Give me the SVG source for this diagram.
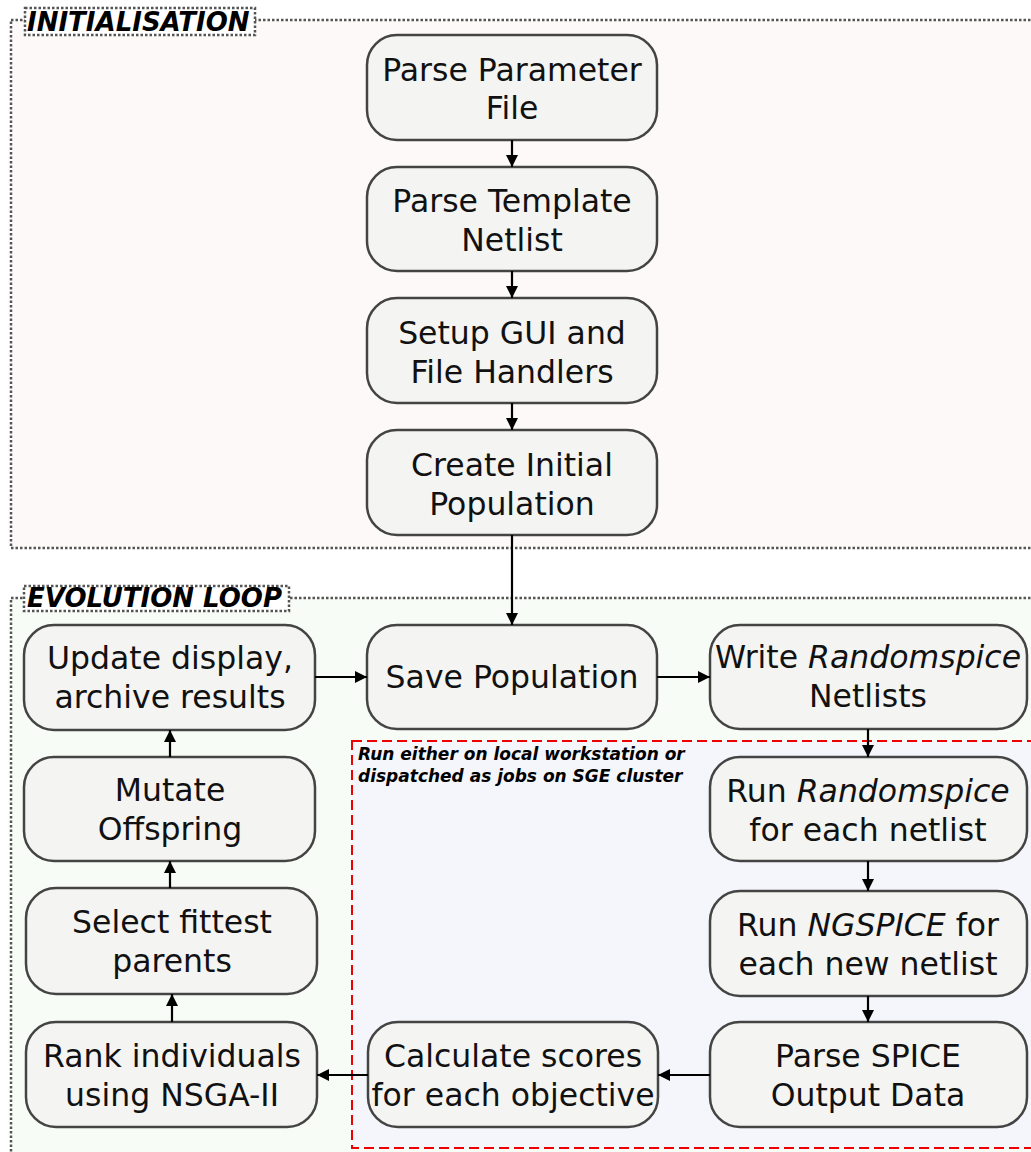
<svg xmlns="http://www.w3.org/2000/svg" width="1031" height="1152" viewBox="0 0 1031 1152">
  <defs>
    <marker id="arr" viewBox="0 0 12 12" refX="12" refY="6" markerWidth="12" markerHeight="12" markerUnits="userSpaceOnUse" orient="auto">
      <path d="M0,0 L12,6 L0,12 z" fill="#000"/>
    </marker>
  </defs>
  <style>
    .grp { stroke: #555; stroke-width: 2.5; stroke-dasharray: 2.5 2; }
    .tag { fill: #fff; stroke: #555; stroke-width: 2.5; stroke-dasharray: 2.5 2; }
    .tagtxt { font-family: "DejaVu Sans", sans-serif; font-size: 26px; font-weight: bold; font-style: italic; fill: #000; }
    .node rect { fill: #f4f4f2; stroke: #444; stroke-width: 2.5; }
    .node text { font-family: "DejaVu Sans", sans-serif; font-size: 31.5px; fill: #111; text-anchor: middle; }
    .it { font-style: italic; }
    .edge { stroke: #000; stroke-width: 2.2; fill: none; marker-end: url(#arr); }
    .note { font-family: "DejaVu Sans", sans-serif; font-size: 17px; font-weight: bold; font-style: italic; fill: #000; }
  </style>

  <rect width="1031" height="1152" fill="#fff"/>

  <!-- group frames -->
  <rect class="grp" x="11" y="20" width="1040" height="528" fill="#fdf9f8"/>
  <rect class="tag" x="25" y="8" width="230" height="27"/>
  <text class="tagtxt" x="27" y="31">INITIALISATION</text>

  <rect class="grp" x="11" y="598" width="1040" height="580" fill="#f8fcf6"/>
  <rect class="tag" x="24" y="586" width="265" height="25"/>
  <text class="tagtxt" x="27" y="607">EVOLUTION LOOP</text>

  <rect x="352" y="741" width="700" height="407" fill="#f5f6fb" stroke="#e00" stroke-width="2" stroke-dasharray="10 5"/>
  <text class="note" x="358" y="760">Run either on local workstation or</text>
  <text class="note" x="358" y="782">dispatched as jobs on SGE cluster</text>

  <!-- nodes -->
  <g id="parse-param" class="node">
    <rect x="367" y="35" width="290" height="105" rx="30"/>
    <text x="512" y="81">Parse Parameter</text>
    <text x="512" y="119">File</text>
  </g>
  <g id="parse-template" class="node">
    <rect x="367" y="167" width="290" height="104" rx="30"/>
    <text x="512" y="212">Parse Template</text>
    <text x="512" y="251">Netlist</text>
  </g>
  <g id="setup-gui" class="node">
    <rect x="367" y="298" width="290" height="105" rx="30"/>
    <text x="512" y="344">Setup GUI and</text>
    <text x="512" y="383">File Handlers</text>
  </g>
  <g id="create-pop" class="node">
    <rect x="367" y="430" width="290" height="105" rx="30"/>
    <text x="512" y="476">Create Initial</text>
    <text x="512" y="515">Population</text>
  </g>
  <g id="save-pop" class="node">
    <rect x="367" y="625" width="290" height="104" rx="30"/>
    <text x="512" y="688">Save Population</text>
  </g>
  <g id="write-netlists" class="node">
    <rect x="710" y="625" width="317" height="104" rx="30"/>
    <text x="868" y="668">Write <tspan class="it">Randomspice</tspan></text>
    <text x="868" y="707">Netlists</text>
  </g>
  <g id="run-randomspice" class="node">
    <rect x="710" y="757" width="317" height="104" rx="30"/>
    <text x="868" y="802">Run <tspan class="it">Randomspice</tspan></text>
    <text x="868" y="841">for each netlist</text>
  </g>
  <g id="run-ngspice" class="node">
    <rect x="710" y="891" width="317" height="105" rx="30"/>
    <text x="868" y="936">Run <tspan class="it">NGSPICE</tspan> for</text>
    <text x="868" y="975">each new netlist</text>
  </g>
  <g id="parse-output" class="node">
    <rect x="710" y="1022" width="317" height="105" rx="30"/>
    <text x="868" y="1067">Parse SPICE</text>
    <text x="868" y="1106">Output Data</text>
  </g>
  <g id="calc-scores" class="node">
    <rect x="368" y="1022" width="290" height="105" rx="30"/>
    <text x="513" y="1067">Calculate scores</text>
    <text x="513" y="1106">for each objective</text>
  </g>
  <g id="rank" class="node">
    <rect x="26" y="1022" width="291" height="105" rx="30"/>
    <text x="172" y="1067">Rank individuals</text>
    <text x="172" y="1106">using NSGA-II</text>
  </g>
  <g id="select" class="node">
    <rect x="26" y="888" width="291" height="106" rx="30"/>
    <text x="172" y="933">Select fittest</text>
    <text x="172" y="972">parents</text>
  </g>
  <g id="mutate" class="node">
    <rect x="24" y="757" width="291" height="104" rx="30"/>
    <text x="170" y="801">Mutate</text>
    <text x="170" y="840">Offspring</text>
  </g>
  <g id="update" class="node">
    <rect x="24" y="625" width="291" height="105" rx="30"/>
    <text x="170" y="669">Update display,</text>
    <text x="170" y="708">archive results</text>
  </g>

  <!-- connectors -->
  <g id="connectors">
    <line class="edge" x1="512" y1="140" x2="512" y2="167"/>
    <line class="edge" x1="512" y1="271" x2="512" y2="298"/>
    <line class="edge" x1="512" y1="403" x2="512" y2="430"/>
    <line class="edge" x1="512" y1="535" x2="512" y2="625"/>
    <line class="edge" x1="315" y1="677" x2="367" y2="677"/>
    <line class="edge" x1="657" y1="677" x2="710" y2="677"/>
    <line class="edge" x1="868" y1="729" x2="868" y2="757"/>
    <line class="edge" x1="868" y1="861" x2="868" y2="891"/>
    <line class="edge" x1="868" y1="996" x2="868" y2="1022"/>
    <line class="edge" x1="710" y1="1075" x2="658" y2="1075"/>
    <line class="edge" x1="368" y1="1075" x2="317" y2="1075"/>
    <line class="edge" x1="172" y1="1022" x2="172" y2="994"/>
    <line class="edge" x1="170" y1="888" x2="170" y2="861"/>
    <line class="edge" x1="170" y1="757" x2="170" y2="730"/>
  </g>
</svg>
